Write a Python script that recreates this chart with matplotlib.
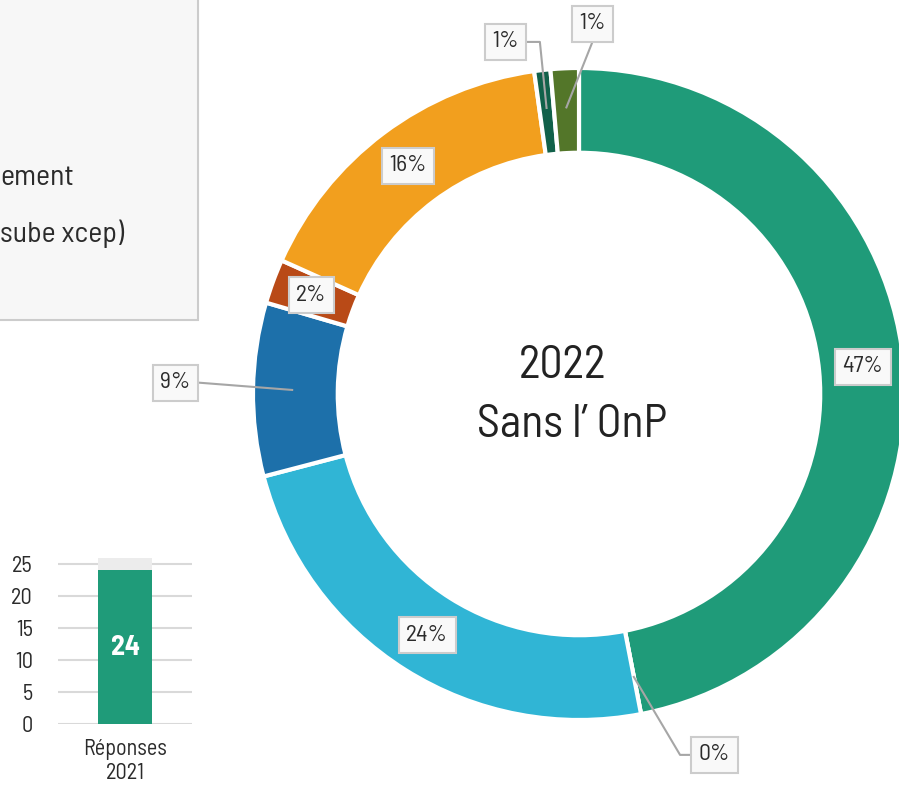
import numpy as np
import matplotlib.pyplot as plt
from matplotlib import font_manager as fm
from matplotlib.patches import Rectangle

# pick a condensed DIN-like face if one is installed
available = {f.name for f in fm.fontManager.ttflist}
font = 'DejaVu Sans'
for cand in ['Barlow Semi Condensed', 'Roboto Condensed', 'Barlow Condensed',
             'Sofia Sans Condensed', 'Encode Sans Condensed', 'PT Sans Narrow',
             'Archivo Narrow', 'Liberation Sans Narrow']:
    if cand in available:
        font = cand
        break
plt.rcParams['font.family'] = [font, 'DejaVu Sans']

# Data
shares = [47.0, 0.0, 24.0, 8.6, 2.2, 16.1, 0.8, 1.4]
share_labels = ['47%', '0%', '24%', '9%', '2%', '16%', '1%', '1%']
colors = ['#1f9b79', '#ffffff', '#30b5d5', '#1d70aa', '#b94a17',
          '#f29f1e', '#11614a', '#537629']
center_year = '2022'
center_sub = 'Sans l\u2019 OnP'

legend_tail = ['ement', 'sube xcep)']

bar_cat = ['Réponses\n2021']
bar_values = [24]
bar_total = [26]
bar_ticks = [0, 5, 10, 15, 20, 25]

W, H = 899, 795
fig = plt.figure(figsize=(W / 100, H / 100), dpi=100)
fig.patch.set_facecolor('white')

text_col = '#2b2b2b'

# Legend panel (cut by the left edge)
fig.patches.append(Rectangle((-10 / W, 1 - 320 / H), 208 / W, 340 / H,
                             transform=fig.transFigure, facecolor='#f7f7f7',
                             edgecolor='#cccccc', linewidth=1.5, zorder=0))
for i, t in enumerate(legend_tail):
    fig.text(0 / W, 1 - (185 + 57 * i) / H, t, ha='left', va='baseline',
             fontsize=21.5, color=text_col)

# Donut
cx, cy, R = 579, 394, 326
ax = fig.add_axes([(cx - R) / W, (H - cy - R) / H, 2 * R / W, 2 * R / H])
wedges, _ = ax.pie(shares, colors=colors, startangle=90, counterclock=False,
                   radius=1, wedgeprops=dict(width=0.26, edgecolor='white',
                                             linewidth=3))
ax.set_xlim(-1, 1)
ax.set_ylim(-1, 1)
ax.set_aspect('equal')
ax.axis('off')

box = dict(boxstyle='square,pad=0.32', facecolor='#f9f9f9',
           edgecolor='#cccccc', linewidth=1.5)
lab_kw = dict(ha='center', va='center', fontsize=17, color=text_col,
              bbox=box, zorder=5, clip_on=False)
line_kw = dict(color='#a6a6a6', linewidth=1.5, zorder=4, clip_on=False)


def mid_point(w, r=0.87):
    a = np.deg2rad((w.theta1 + w.theta2) / 2)
    return r * np.cos(a), r * np.sin(a)


# labels inside the ring
for i in [0, 2, 4, 5]:
    x, y = mid_point(wedges[i], 0.875)
    ax.text(x, y, share_labels[i], **lab_kw)

# 9% label with a leader line
x, y = mid_point(wedges[3], 0.88)
ax.plot([x, -1.169], [y, 0.035], **line_kw)
ax.text(-1.238, 0.035, share_labels[3], **lab_kw)

# 0% label
x, y = mid_point(wedges[1], 0.884)
ax.plot([x, 0.310, 0.347], [y, -1.107, -1.107], **line_kw)
ax.text(0.416, -1.106, share_labels[1], **lab_kw)

# small slices at the top
x, y = mid_point(wedges[6], 0.883)
ax.plot([x, -0.120, -0.16], [y, 1.08, 1.08], **line_kw)
ax.text(-0.225, 1.081, share_labels[6], **lab_kw)

x, y = mid_point(wedges[7], 0.88)
ax.plot([x, 0.040], [y, 1.077], **line_kw)
ax.text(0.041, 1.135, share_labels[7], **lab_kw)

ax.text(-0.052, 0.049, center_year, ha='center', va='baseline', fontsize=33,
        color='#222222')
ax.text(-0.020, -0.132, center_sub, ha='center', va='baseline', fontsize=33,
        color='#222222')

# Small bar chart of responses
bx0, bx1, by0 = 58, 192, 724
unit = 6.4
ymax = 27
bax = fig.add_axes([bx0 / W, (H - by0) / H, (bx1 - bx0) / W, ymax * unit / H])
xpos = np.arange(len(bar_cat))
rest = [t - v for t, v in zip(bar_total, bar_values)]
bax.bar(xpos, bar_values, width=0.4, color='#1f9b79', zorder=3)
bax.bar(xpos, rest, width=0.4, bottom=bar_values, color='#ececec', zorder=3)
for xp, v in zip(xpos, bar_values):
    bax.text(xp, v / 2, str(v), ha='center', va='center', color='white',
             fontsize=20, fontweight='bold', zorder=4)
bax.set_xlim(-0.5, 0.5)
bax.set_ylim(0, ymax)
bax.set_yticks(bar_ticks)
bax.set_xticks(xpos)
bax.set_xticklabels(bar_cat, fontsize=16, color=text_col, linespacing=1.2)
bax.tick_params(axis='y', labelsize=16, labelcolor=text_col, length=0, pad=18)
bax.tick_params(axis='x', length=0, pad=11)
bax.grid(axis='y', color='#d9d9d9', linewidth=1.5, zorder=0)
for s in bax.spines.values():
    s.set_visible(False)
bax.set_facecolor('none')

plt.savefig('out.png', dpi=100, facecolor='white')
